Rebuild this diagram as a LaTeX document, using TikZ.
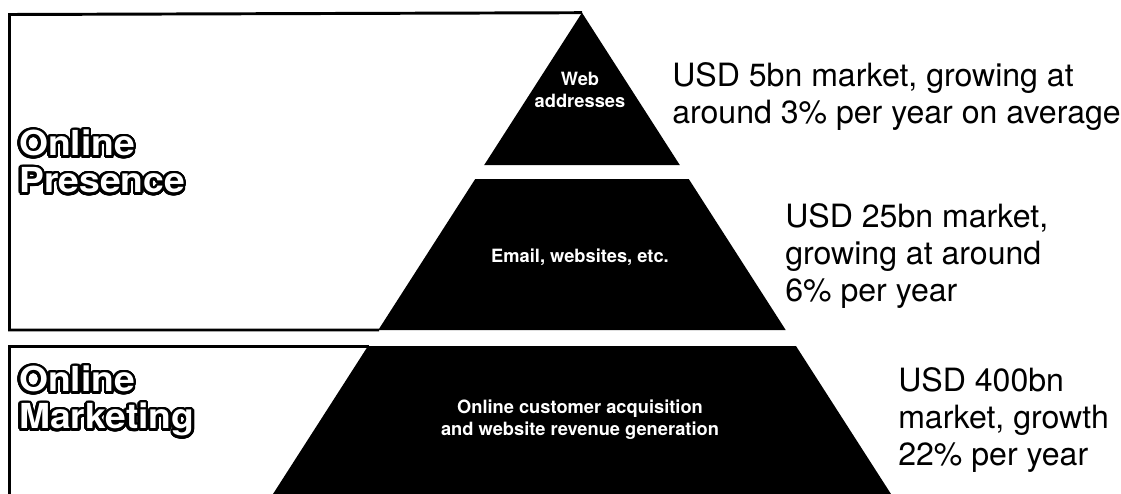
\documentclass[tikz,border=0pt]{standalone}
\usepackage{fontspec}
\setmainfont{TeX Gyre Heros}
\newfontfamily\headfont{TeX Gyre Heros}[FakeStretch=1.08]
\usepackage[copies]{contour}
\contourlength{1.8pt}
\contournumber{32}

\newcommand{\headtext}[1]{\contour{black}{\textcolor{white}{#1}}}

\tikzset{
  boxline/.style={draw=black, line width=2.1pt},
  tier/.style={fill=black},
  tierlabel/.style={text=white, align=center, inner sep=0pt,
    font=\fontsize{13}{15.5}\selectfont\bfseries},
  marketnote/.style={anchor=north west, inner sep=0pt, align=left,
    font=\fontsize{22.8}{26.3}\selectfont},
  heading/.style={anchor=north west, inner sep=0pt, align=left,
    font=\headfont\fontsize{24.5}{26.3}\selectfont\bfseries},
}

\begin{document}
\begin{tikzpicture}[x=0.025cm, y=-0.025cm]

      \useasboundingbox (0,0) rectangle (1121,494);

      % corners of the two frames
      \coordinate (apex)   at (582,12.7);
      \coordinate (ptop)   at (9.5,14.5);
      \coordinate (pbot)   at (9.5,330);
      \coordinate (pend)   at (379,330);
      \coordinate (mtop)   at (9.5,346.5);
      \coordinate (mbot)   at (9.5,494);
      \coordinate (mend)   at (369,346.5);

      \draw[boxline] (apex) -- (ptop) -- (pbot) -- (pend);
      \draw[boxline] (mend) -- (mtop) -- (mbot);

      % the three tiers of the pyramid
      \foreach \t/\b in {12.7/165, 179/330, 346/494}
        \fill[tier] ({582-0.642*(\t-12.7)},\t) -- ({582+0.642*(\t-12.7)},\t)
          -- ({582+0.642*(\b-12.7)},\b) -- ({582-0.642*(\b-12.7)},\b) -- cycle;

      \begin{scope}[every node/.style={tierlabel}]
        \node (web)   at (580,90)  {Web\\addresses};
        \node (email) at (580,257) {Email, websites, etc.};
        \node (acq)   at (580,420) {Online customer acquisition\\and website revenue generation};
      \end{scope}

      \begin{scope}[every node/.style={marketnote}]
        \node (usd5)   at (672,62)  {USD 5bn market, growing at\\around 3\% per year on average};
        \node (usd25)  at (785,203) {USD 25bn market,\\growing at around\\6\% per year};
        \node (usd400) at (898,367) {USD 400bn\\market, growth\\22\% per year};
      \end{scope}

      \begin{scope}[every node/.style={heading}]
        \node (presence)  at (19,130) {\headtext{Online}\\\headtext{Presence}};
        \node (marketing) at (19,366) {\headtext{Online}\\\headtext{Marketing}};
      \end{scope}

    \end{tikzpicture}
\end{document}
